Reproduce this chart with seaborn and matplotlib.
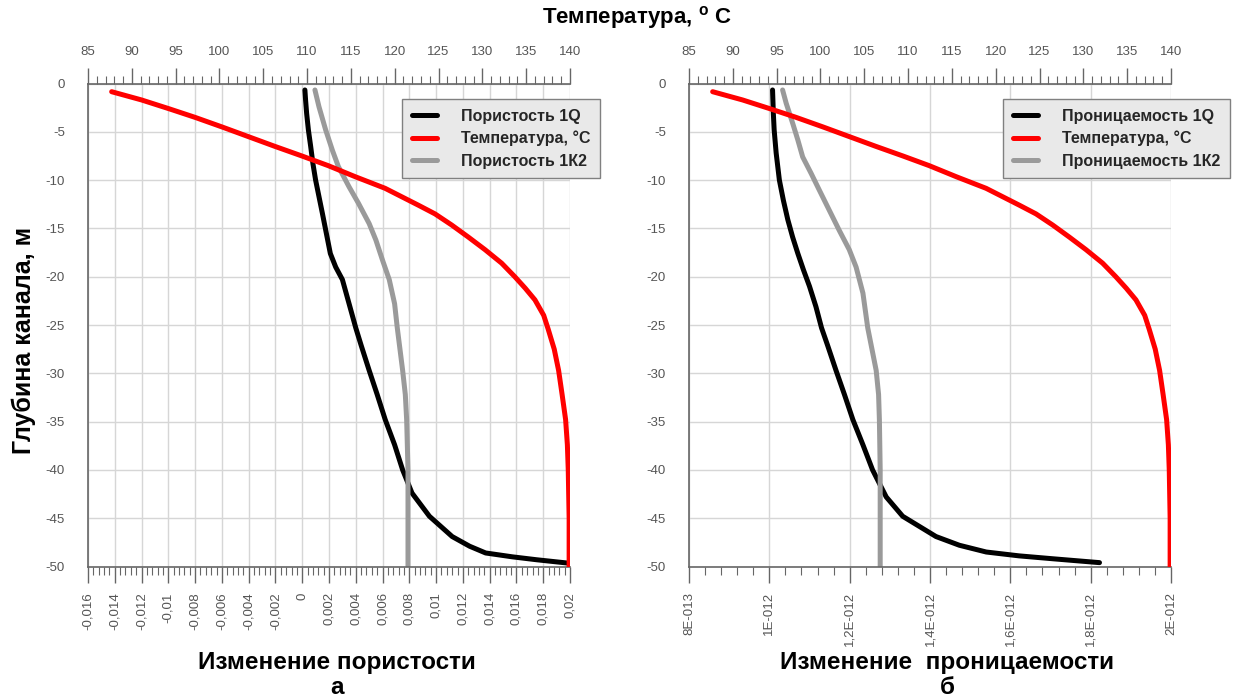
import matplotlib
matplotlib.use("Agg")
import matplotlib.pyplot as plt
import matplotlib.ticker as mticker
import seaborn as sns

# temperature profile along the channel (same for both panels)
depth_temp = [-0.85, -1.7, -2.6, -3.5, -4.5, -5.5, -6.5, -7.5, -8.5, -9.65, -10.85,
              -12.6, -13.5, -14.65, -15.9, -17.2, -18.6, -20.0, -21.2, -22.4, -24.0,
              -25.4, -27.5, -29.7, -32.2, -34.8, -37.4, -40.0, -45.0, -50.0]
temp = [87.7, 91.1, 94.2, 97.2, 100.3, 103.3, 106.3, 109.4, 112.4, 115.5, 118.9,
        122.7, 124.6, 126.5, 128.4, 130.3, 132.2, 133.7, 134.9, 136.0, 137.0,
        137.5, 138.2, 138.7, 139.1, 139.5, 139.7, 139.8, 139.9, 139.9]

# porosity change
depth_por_1q = [-0.67, -1.7, -3.1, -4.8, -6.5, -8.3, -10.0, -11.7, -13.4, -15.5, -17.6,
                -19.0, -20.3, -22.8, -25.3, -27.1, -29.7, -32.2, -34.8, -37.4, -40.0,
                -42.4, -44.8, -46.9, -47.9, -48.6, -49.0, -49.3, -49.7]
por_1q = [0.0002, 0.00025, 0.00033, 0.00046, 0.00063, 0.0008, 0.0010, 0.00125, 0.0015,
          0.0018, 0.0021, 0.0025, 0.0030, 0.0035, 0.0040, 0.0044, 0.0050, 0.0056, 0.0062,
          0.0069, 0.0075, 0.0082, 0.0095, 0.0112, 0.0125, 0.0137, 0.0157, 0.0175, 0.0202]
depth_por_1k2 = [-0.67, -2.4, -4.8, -6.9, -8.6, -10.7, -12.4, -14.5, -16.2, -18.3, -20.3,
                 -22.8, -25.3, -29.7, -32.2, -34.8, -40.0, -50.0]
por_1k2 = [0.00095, 0.00125, 0.00175, 0.00225, 0.0027, 0.0035, 0.0042, 0.0050, 0.0055,
           0.0060, 0.0065, 0.0069, 0.0071, 0.0075, 0.0077, 0.0078, 0.0079, 0.0079]

# permeability change
depth_perm_1q = [-0.67, -3.1, -4.8, -7.2, -10.0, -12.1, -14.1, -15.9, -17.6, -19.3, -21.0,
                 -23.1, -25.3, -27.1, -29.7, -32.2, -34.8, -37.4, -40.0, -42.8, -44.8,
                 -46.9, -47.8, -48.5, -48.9, -49.2, -49.6]
perm_1q = [1.008e-12, 1.010e-12, 1.012e-12, 1.017e-12, 1.025e-12, 1.035e-12, 1.046e-12,
           1.058e-12, 1.071e-12, 1.085e-12, 1.100e-12, 1.116e-12, 1.130e-12, 1.145e-12,
           1.166e-12, 1.187e-12, 1.208e-12, 1.233e-12, 1.257e-12, 1.291e-12, 1.332e-12,
           1.415e-12, 1.473e-12, 1.540e-12, 1.622e-12, 1.706e-12, 1.822e-12]
depth_perm_1k2 = [-0.67, -2.05, -4.1, -5.85, -7.6, -9.3, -11.0, -13.1, -15.2, -17.2, -19.0,
                  -21.7, -25.3, -29.7, -32.2, -34.8, -40.0, -50.0]
perm_1k2 = [1.033e-12, 1.042e-12, 1.058e-12, 1.071e-12, 1.083e-12, 1.104e-12, 1.124e-12,
            1.149e-12, 1.174e-12, 1.199e-12, 1.216e-12, 1.233e-12, 1.245e-12, 1.266e-12,
            1.272e-12, 1.274e-12, 1.276e-12, 1.276e-12]

por_ticks = [-0.016, -0.014, -0.012, -0.01, -0.008, -0.006, -0.004, -0.002, 0,
             0.002, 0.004, 0.006, 0.008, 0.01, 0.012, 0.014, 0.016, 0.018, 0.02]
por_labels = ["-0,016", "-0,014", "-0,012", "-0,01", "-0,008", "-0,006", "-0,004", "-0,002", "0",
              "0,002", "0,004", "0,006", "0,008", "0,01", "0,012", "0,014", "0,016", "0,018", "0,02"]
perm_ticks = [8e-13, 1e-12, 1.2e-12, 1.4e-12, 1.6e-12, 1.8e-12, 2e-12]
perm_labels = ["8E-013", "1E-012", "1,2E-012", "1,4E-012", "1,6E-012", "1,8E-012", "2E-012"]

sns.set_style("white")
plt.rcParams["font.family"] = ["Liberation Sans", "DejaVu Sans"]
plt.rcParams["axes.unicode_minus"] = False
plt.rcParams["mathtext.default"] = "regular"

AX_COL = "#666666"
LBL_COL = "#555555"
W = 1241
H = 698
LINE = dict(sort=False, estimator=None, lw=3.6, legend=False,
            solid_capstyle="round", solid_joinstyle="round")


def draw_panel(ax, x1q, d1q, x1k2, d1k2, ticks, labels, minor, names):
    sns.lineplot(x=x1q, y=d1q, color="black", ax=ax, label=names[0], **LINE)
    sns.lineplot(x=x1k2, y=d1k2, color="#9a9a9a", ax=ax, label=names[2], **LINE)
    ax.set_xlim(ticks[0], ticks[-1])
    ax.set_ylim(-50, 0)
    ax.set_xticks(ticks, labels)
    ax.xaxis.set_minor_locator(mticker.MultipleLocator(minor))
    ax.yaxis.set_major_locator(mticker.MultipleLocator(5))
    ax.yaxis.set_minor_locator(mticker.MultipleLocator(1))
    ax.grid(True, which="major", color="#d6d6d6", lw=1.0)
    ax.set_axisbelow(True)
    ax.set_xlabel("")
    ax.set_ylabel("")
    for s in ["top", "right"]:
        ax.spines[s].set_visible(False)
    for s in ["left", "bottom"]:
        ax.spines[s].set_color(AX_COL)
        ax.spines[s].set_linewidth(1.2)
    ax.tick_params(axis="x", which="major", direction="out", length=11.5, width=1,
                   color=AX_COL, labelsize=9.5, labelcolor=LBL_COL, labelrotation=90, pad=7)
    ax.tick_params(axis="x", which="minor", direction="out", length=5.5, width=0.8, color=AX_COL)
    ax.tick_params(axis="y", which="major", direction="out", length=11.5, width=1,
                   color=AX_COL, labelsize=9.5, labelcolor=LBL_COL, pad=5)
    ax.tick_params(axis="y", which="minor", direction="out", length=5.5, width=0.8, color=AX_COL)

    top = ax.twiny()
    sns.lineplot(x=temp, y=depth_temp, color="red", ax=top, label=names[1], **LINE)
    top.set_xlim(85, 140)
    top.set_xlabel("")
    top.xaxis.set_major_locator(mticker.MultipleLocator(5))
    top.xaxis.set_minor_locator(mticker.MultipleLocator(1))
    top.grid(False)
    for s in ["left", "right", "bottom"]:
        top.spines[s].set_visible(False)
    top.spines["top"].set_color(AX_COL)
    top.spines["top"].set_linewidth(1.2)
    top.tick_params(axis="x", which="major", direction="out", length=11.5, width=1,
                    color=AX_COL, labelsize=9.5, labelcolor=LBL_COL, pad=7)
    top.tick_params(axis="x", which="minor", direction="out", length=5.5, width=0.8, color=AX_COL)

    handles = [ax.get_lines()[0], top.get_lines()[0], ax.get_lines()[1]]
    top.legend(handles, names, loc="upper left", bbox_to_anchor=(0.652, 0.968),
               borderaxespad=0, frameon=True, fancybox=False, framealpha=1,
               facecolor="#e9e9e9", edgecolor="#808080",
               prop={"weight": "bold", "size": 11.5}, handlelength=1.55,
               handletextpad=1.55, labelspacing=0.46, borderpad=0.6)
    return top


fig = plt.figure(figsize=(W / 100, H / 100), dpi=100)
ax_left = fig.add_axes([88 / W, 1 - 566.5 / H, 482 / W, 483 / H])
ax_right = fig.add_axes([689 / W, 1 - 566.5 / H, 482 / W, 483 / H])

draw_panel(ax_left, por_1q, depth_por_1q, por_1k2, depth_por_1k2, por_ticks, por_labels, 0.0004,
           ["Пористость 1Q", "Температура, °C", "Пористость 1К2"])
draw_panel(ax_right, perm_1q, depth_perm_1q, perm_1k2, depth_perm_1k2, perm_ticks, perm_labels, 4e-14,
           ["Проницаемость 1Q", "Температура, °C", "Проницаемость 1К2"])

TXT = dict(ha="center", va="center", weight="bold", color="black")
fig.text(637 / W, 1 - 18 / H, "Температура, $^{o}$ С", fontsize=16, **TXT)
fig.text(24 / W, 1 - 340 / H, "Глубина канала, м", rotation=90, fontsize=18, **TXT)
fig.text(337 / W, 1 - 662 / H, "Изменение пористости", fontsize=17.5, **TXT)
fig.text(337 / W, 1 - 688 / H, "а", fontsize=17.5, **TXT)
fig.text(947 / W, 1 - 662 / H, "Изменение  проницаемости", fontsize=17.5, **TXT)
fig.text(947 / W, 1 - 688 / H, "б", fontsize=17.5, **TXT)

fig.savefig("out.png", dpi=100)
